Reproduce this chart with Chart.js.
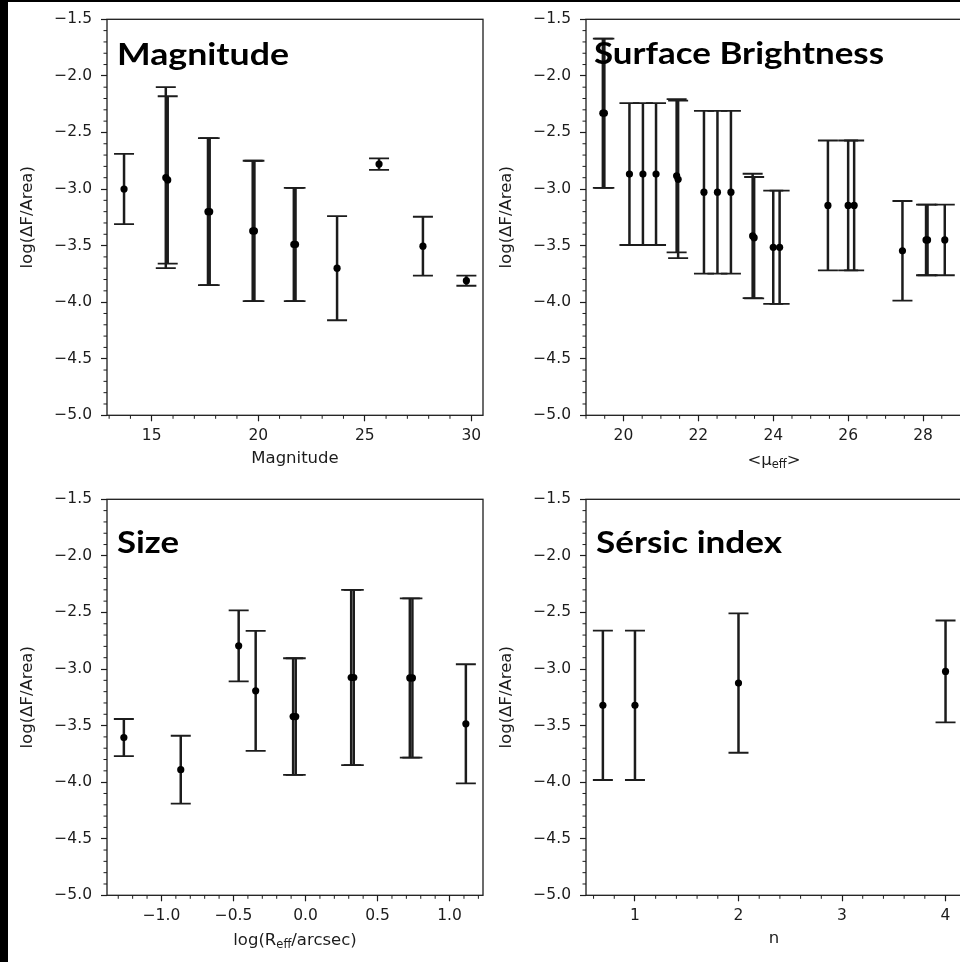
<!DOCTYPE html>
<html>
<head>
<meta charset="utf-8">
<script src="https://cdn.jsdelivr.net/npm/chart.js@4.4.0/dist/chart.umd.min.js"></script>
<style>
  html, body { margin: 0; padding: 0; background: #fff; width: 960px; height: 962px; overflow: hidden; }
  canvas { position: absolute; }
  .edge { position: absolute; background: #000; z-index: 3; }
  svg { position: absolute; left: 0; top: 0; z-index: 2; }
</style>
</head>
<body>
<canvas id="cMag" width="490" height="480" style="left:0;top:0"></canvas>
<canvas id="cSb" width="490" height="480" style="left:479px;top:0"></canvas>
<canvas id="cSize" width="490" height="480" style="left:0;top:480px"></canvas>
<canvas id="cN" width="490" height="480" style="left:479px;top:480px"></canvas>

<svg width="960" height="962">
  <g font-family="Lato" font-weight="700" font-size="31" fill="#000">
    <text x="117" y="65" textLength="172" lengthAdjust="spacingAndGlyphs">Magnitude</text>
    <text x="594" y="64" textLength="290" lengthAdjust="spacingAndGlyphs">Surface Brightness</text>
    <text x="117" y="553" textLength="62" lengthAdjust="spacingAndGlyphs">Size</text>
    <text x="596" y="553" textLength="186" lengthAdjust="spacingAndGlyphs">Sérsic index</text>
  </g>
  <g font-family="DejaVu Sans" font-size="16.5" fill="#1c1c1c" text-anchor="middle">
    <text x="774" y="465">&lt;μ<tspan font-size="11.5" dy="3">eff</tspan><tspan dy="-3">&gt;</tspan></text>
    <text x="295" y="945">log(R<tspan font-size="11.5" dy="3">eff</tspan><tspan dy="-3">/arcsec)</tspan></text>
  </g>
</svg>
<div class="edge" style="left:0;top:0;width:8px;height:962px"></div>
<div class="edge" style="left:0;top:0;width:960px;height:2px"></div>

<script>
const INK = '#1c1c1c';

// shared y axis
const yTicks = [-1.5, -2.0, -2.5, -3.0, -3.5, -4.0, -4.5, -5.0];

// Magnitude panel
const magX   = [13.7, 15.66, 15.75, 17.64, 17.72, 19.74, 19.82, 21.67, 21.75, 23.70, 25.67, 27.73, 29.77];
const magY   = [-3.00, -2.90, -2.92, -3.20, -3.20, -3.37, -3.37, -3.49, -3.49, -3.70, -2.78, -3.505, -3.81];
const magErr = [0.31, 0.80, 0.74, 0.65, 0.65, 0.62, 0.62, 0.50, 0.50, 0.46, 0.05, 0.26, 0.045];
const magTicks = [15, 20, 25, 30];

// Surface brightness panel
const sbX   = [19.45, 19.49, 20.16, 20.52, 20.87, 21.42, 21.46, 22.15, 22.51, 22.87, 23.45, 23.49,
               24.00, 24.17, 25.46, 26.00, 26.16, 27.45, 28.08, 28.12, 28.58];
const sbY   = [-2.33, -2.33, -2.868, -2.868, -2.868, -2.883, -2.914, -3.028, -3.028, -3.028, -3.415, -3.43,
               -3.515, -3.515, -3.145, -3.145, -3.145, -3.546, -3.45, -3.45, -3.45];
const sbErr = [0.66, 0.66, 0.627, 0.627, 0.627, 0.677, 0.696, 0.719, 0.719, 0.719, 0.55, 0.536,
               0.50, 0.50, 0.574, 0.574, 0.574, 0.44, 0.312, 0.312, 0.312];
const sbTicks = [20, 22, 24, 26, 28];

// Size panel
const sizeX   = [-1.261, -0.866, -0.464, -0.346, -0.086, -0.068, 0.317, 0.335, 0.724, 0.742, 1.113];
const sizeY   = [-3.606, -3.89, -2.795, -3.193, -3.42, -3.42, -3.075, -3.075, -3.079, -3.079, -3.484];
const sizeErr = [0.164, 0.30, 0.314, 0.53, 0.515, 0.515, 0.774, 0.774, 0.704, 0.704, 0.526];
const sizeTicks = [-1.0, -0.5, 0.0, 0.5, 1.0];

// Sersic index panel
const nX   = [0.69, 1.0, 2.0, 4.0];
const nY   = [-3.321, -3.321, -3.124, -3.021];
const nErr = [0.66, 0.66, 0.616, 0.45];
const nTicks = [1, 2, 3, 4];

const fmt = (v, d) => v.toFixed(d).replace('-', '\u2212');

// frame on all four sides plus minor ticks
const frameMinor = {
  id: 'frameMinor',
  afterDraw(chart, args, opts) {
    const { ctx, chartArea: a, scales } = chart;
    ctx.save();
    ctx.strokeStyle = INK;
    ctx.lineWidth = 1.3;
    ctx.strokeRect(a.left, a.top, a.right - a.left, a.bottom - a.top);
    ctx.lineWidth = 1;
    ['x', 'y'].forEach(id => {
      const s = scales[id], step = opts[id];
      const majors = s.ticks.map(t => t.value);
      for (let k = Math.ceil(s.min / step - 1e-6); k * step <= s.max + 1e-9; k++) {
        const v = k * step;
        if (majors.some(m => Math.abs(m - v) < step / 10)) continue;
        const p = s.getPixelForValue(v);
        ctx.beginPath();
        if (id === 'x') { ctx.moveTo(p, a.bottom); ctx.lineTo(p, a.bottom + 3.5); }
        else { ctx.moveTo(a.left - 3.5, p); ctx.lineTo(a.left, p); }
        ctx.stroke();
      }
    });
    ctx.restore();
  }
};

// vertical error bars with caps, drawn under the points
const errorBars = {
  id: 'errorBars',
  beforeDatasetsDraw(chart) {
    const { ctx, scales: { x, y } } = chart;
    ctx.save();
    ctx.strokeStyle = INK;
    chart.data.datasets.forEach(ds => {
      ds.data.forEach(p => {
        const px = x.getPixelForValue(p.x);
        const top = y.getPixelForValue(p.y + p.err);
        const bot = y.getPixelForValue(p.y - p.err);
        ctx.lineWidth = 2.5;
        ctx.beginPath();
        ctx.moveTo(px, top); ctx.lineTo(px, bot);
        ctx.stroke();
        ctx.lineWidth = 1.8;
        ctx.beginPath();
        ctx.moveTo(px - 10, top); ctx.lineTo(px + 10, top);
        ctx.moveTo(px - 10, bot); ctx.lineTo(px + 10, bot);
        ctx.stroke();
      });
    });
    ctx.restore();
  }
};

function panel(id, xs, ys, errs, xTicks, xMin, xMax, xMinor, xDec, xTitle) {
  new Chart(document.getElementById(id), {
    type: 'scatter',
    data: {
      datasets: [{
        data: xs.map((x, i) => ({ x: x, y: ys[i], err: errs[i] })),
        backgroundColor: '#000',
        borderWidth: 0,
        pointRadius: 3.6
      }]
    },
    options: {
      responsive: false,
      devicePixelRatio: 1,
      animation: false,
      events: [],
      layout: { padding: { left: 0, top: 19.3, right: 7, bottom: 0 } },
      plugins: {
        legend: { display: false },
        tooltip: { enabled: false },
        frameMinor: { x: xMinor, y: 0.1 }
      },
      scales: {
        x: {
          type: 'linear', min: xMin, max: xMax,
          afterBuildTicks: s => { s.ticks = xTicks.map(v => ({ value: v })); },
          afterFit: s => { s.height = 64.7; },
          ticks: {
            callback: v => fmt(v, xDec), color: INK, padding: 5,
            maxRotation: 0, autoSkip: false,
            font: { family: 'DejaVu Sans', size: 15.5 }
          },
          grid: { drawOnChartArea: false, tickLength: 6, tickColor: INK, tickWidth: 1.2 },
          border: { display: false },
          title: {
            display: !!xTitle, text: xTitle, color: INK,
            font: { family: 'DejaVu Sans', size: 16.5 },
            padding: { top: 0, bottom: 11 }
          }
        },
        y: {
          type: 'linear', min: -5.0, max: -1.5,
          afterBuildTicks: s => { s.ticks = yTicks.map(v => ({ value: v })); },
          afterFit: s => { s.width = 107; },
          ticks: {
            callback: v => fmt(v, 1), color: INK, padding: 9,
            font: { family: 'DejaVu Sans', size: 15.5 }
          },
          grid: { drawOnChartArea: false, tickLength: 6, tickColor: INK, tickWidth: 1.2 },
          border: { display: false },
          title: {
            display: true, text: 'log(\u0394F/Area)', color: INK,
            font: { family: 'DejaVu Sans', size: 16.5 },
            padding: { top: 18, bottom: 0 }
          }
        }
      }
    },
    plugins: [errorBars, frameMinor]
  });
}

panel('cMag', magX, magY, magErr, magTicks, 12.9, 30.55, 1, 0, 'Magnitude');
panel('cSb', sbX, sbY, sbErr, sbTicks, 19.0, 29.04, 0.5, 0, '');
panel('cSize', sizeX, sizeY, sizeErr, sizeTicks, -1.378, 1.232, 0.1, 1, '');
panel('cN', nX, nY, nErr, nTicks, 0.527, 4.159, 0.2, 0, 'n');
</script>
</body>
</html>
